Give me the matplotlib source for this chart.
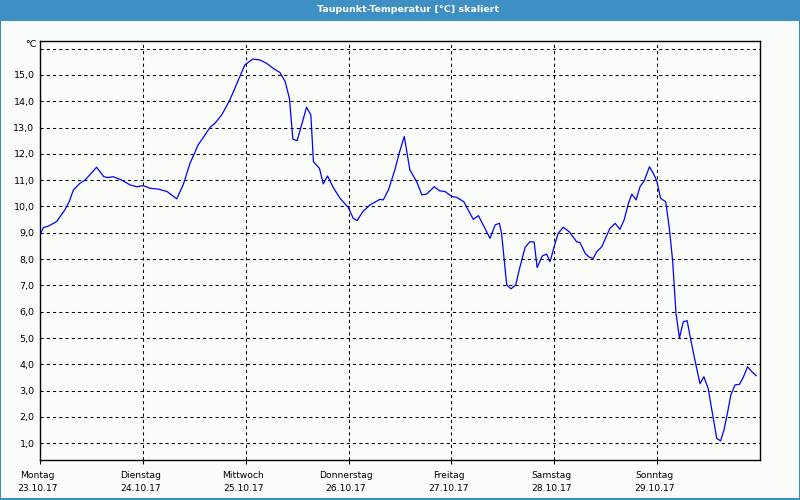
import matplotlib
matplotlib.use("Agg")
import matplotlib.pyplot as plt
from matplotlib.patches import Rectangle
from matplotlib.transforms import ScaledTranslation

title = "Taupunkt-Temperatur [°C] skaliert"
day_names = ["Montag", "Dienstag", "Mittwoch", "Donnerstag", "Freitag", "Samstag", "Sonntag"]
day_dates = ["23.10.17", "24.10.17", "25.10.17", "26.10.17", "27.10.17", "28.10.17", "29.10.17"]
y_ticks = [1, 2, 3, 4, 5, 6, 7, 8, 9, 10, 11, 12, 13, 14, 15, 16]

# hours since Monday 00:00
hours = [0.2, 0.8, 1.9, 3.9, 5.8, 6.8, 7.8, 9.3, 10.5, 13.2, 14.9, 15.9, 17.1, 19.1, 21.0,
         22.6, 24.1, 25.7, 27.6, 29.6, 30.7, 31.9, 33.4, 35.0, 36.9, 39.7, 40.8, 42.4, 44.3,
         46.3, 47.8, 49.6, 51.3, 52.9, 54.4, 56.0, 57.2, 58.2, 59.0, 60.0, 62.2, 63.2, 63.8,
         65.2, 66.1, 67.1, 68.4, 70.0, 71.9, 73.1, 74.0, 75.3, 77.0, 79.3, 80.1, 81.3, 82.8,
         83.8, 85.0, 86.3, 87.9, 89.1, 90.2, 92.0, 93.3, 94.5, 96.1, 97.2, 98.9, 99.9, 101.1,
         102.3, 103.4, 105.0, 106.2, 107.2, 107.7, 108.9, 109.9, 111.0, 112.0, 113.2, 114.3,
         115.3, 116.0, 117.2, 118.2, 119.0, 120.2, 120.9, 122.1, 123.5, 125.2, 126.0, 127.2,
         128.2, 129.1, 129.9, 131.1, 132.1, 133.0, 134.2, 135.3, 136.3, 137.3, 138.1, 139.1,
         140.0, 141.0, 142.2, 143.1, 143.9, 144.8, 146.0, 146.8, 147.6, 148.4, 149.2, 150.1,
         151.0, 151.7, 152.8, 154.0, 154.9, 155.9, 156.9, 157.9, 158.8, 159.6, 160.4, 161.2,
         162.2, 163.2, 164.1, 165.1, 166.1, 167.1]
dewpoint = [9.0, 9.2, 9.25, 9.43, 9.87, 10.18, 10.63, 10.88, 11.0, 11.49, 11.13, 11.1, 11.13, 11.0, 10.82,
            10.75, 10.79, 10.69, 10.66, 10.57, 10.44, 10.29, 10.82, 11.64, 12.34, 13.01, 13.16, 13.48, 14.05,
            14.81, 15.38, 15.6, 15.57, 15.44, 15.25, 15.09, 14.75, 14.11, 12.56, 12.5, 13.77, 13.48, 11.7,
            11.45, 10.86, 11.16, 10.73, 10.31, 9.97, 9.55, 9.46, 9.8, 10.06, 10.27, 10.25, 10.63, 11.39,
            12.02, 12.66, 11.39, 10.94, 10.44, 10.47, 10.75, 10.59, 10.57, 10.38, 10.35, 10.18, 9.87, 9.51,
            9.65, 9.3, 8.79, 9.3, 9.36, 8.98, 7.02, 6.87, 7.02, 7.71, 8.45, 8.66,
            8.65, 7.68, 8.12, 8.19, 7.9, 8.6, 8.98, 9.21, 9.04, 8.66, 8.63, 8.22,
            8.07, 8.03, 8.28, 8.47, 8.85, 9.17, 9.36, 9.13, 9.49, 10.12, 10.47, 10.25,
            10.75, 10.98, 11.51, 11.26, 10.98, 10.31, 10.18, 9.23, 7.97, 5.94, 5.0, 5.62,
            5.66, 5.05, 4.17, 3.26, 3.53, 3.09, 2.14, 1.19, 1.09, 1.51, 2.14, 2.84,
            3.22, 3.24, 3.51, 3.91, 3.72, 3.57]

bar_blue = "#3d8fc4"
fig = plt.figure(figsize=(8, 5), dpi=100, facecolor="#fbfdfb")

# title bar and border
fig.patches.append(Rectangle((0, 1 - 20.5 / 500), 1, 20.5 / 500, transform=fig.transFigure,
                             facecolor=bar_blue, edgecolor="none", zorder=0))
fig.patches.append(Rectangle((0.0006, 0.002), 0.9988, 0.997, transform=fig.transFigure,
                             facecolor="none", edgecolor=bar_blue, linewidth=1.5, zorder=1))
fig.text(408.5 / 800, 1 - 9.5 / 500, title, color="white", ha="center", va="center",
         fontsize=6.8, fontweight="bold", family="DejaVu Sans")

ax = fig.add_axes([40 / 800, 1 - 460 / 500, 720 / 800, (460 - 40.7) / 500])
ax.set_facecolor("#fbfdfb")
days = [h / 24.0 for h in hours]
ax.plot(days, dewpoint, color="#0000ff", linewidth=0.9, zorder=3)

ax.set_xlim(0, 7)
ax.set_ylim(0.365, 16.3)

for d in range(1, 7):
    ax.axvline(d, color="black", linestyle=(0, (3, 3)), linewidth=0.75, zorder=1)
for y in y_ticks:
    ax.axhline(y, color="black", linestyle=(0, (3, 3)), linewidth=0.75, zorder=1)

ax.set_yticks(y_ticks)
ax.set_yticklabels([f"{v:.1f}".replace(".", ",") if v < 16 else "" for v in y_ticks])
ax.tick_params(axis="y", length=0, labelsize=6.8, pad=4)
ax.set_xticks(range(7))
ax.set_xticklabels([f"{n}\n{d}" for n, d in zip(day_names, day_dates)],
                   fontsize=6.6, linespacing=1.6)
ax.tick_params(axis="x", length=3, width=0.8, pad=5, direction="out")
shift = ScaledTranslation(-2.5 / 100, 0, fig.dpi_scale_trans)
for lab in ax.get_xticklabels():
    lab.set_transform(lab.get_transform() + shift)
ax.text(-3 / 720 * 7, 16.15, "°C", ha="right", va="center", fontsize=6.8, clip_on=False)
for s in ax.spines.values():
    s.set_linewidth(1.0)
    s.set_color("black")

fig.savefig("out.png", dpi=100, facecolor=fig.get_facecolor())
